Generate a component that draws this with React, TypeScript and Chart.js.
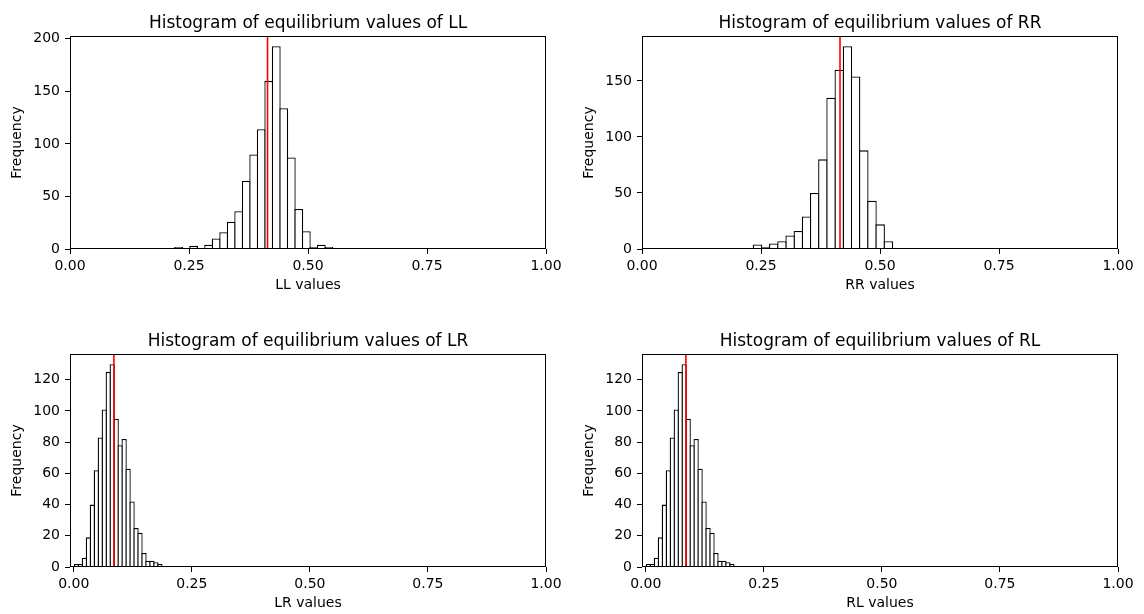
import React, { useEffect, useRef } from 'react';
import { Chart, registerables } from 'chart.js';

Chart.register(...registerables);
Chart.defaults.font.family = '"DejaVu Sans", sans-serif';
Chart.defaults.color = '#000';

const X_TICKS = [0, 0.25, 0.5, 0.75, 1];
const X_TICK_LABELS = ['0.00', '0.25', '0.50', '0.75', '1.00'];

const LL_COUNTS = [1, 2, 0, 3, 1, 4, 10, 16, 26, 36, 65, 90, 114, 160, 193, 134, 87, 38, 17, 2, 4, 2];
const LL_BIN_START = 0.2045;
const LL_BIN_WIDTH = 0.01578;
const LL_MEAN = 0.415;
const LL_Y_TICKS = [0, 50, 100, 150, 200];

const RR_COUNTS = [4, 2, 5, 7, 12, 16, 29, 50, 80, 135, 160, 181, 154, 88, 43, 22, 7, 1, 1, 0, 1, 1];
const RR_BIN_START = 0.2339;
const RR_BIN_WIDTH = 0.01719;
const RR_MEAN = 0.416;
const RR_Y_TICKS = [0, 50, 100, 150];

const LR_COUNTS = [2, 2, 6, 19, 40, 62, 83, 101, 125, 130, 95, 78, 82, 63, 42, 25, 22, 9, 4, 4, 3, 2];
const LR_BIN_START = 0.0015;
const LR_BIN_WIDTH = 0.00841;
const LR_MEAN = 0.085;
const LR_Y_TICKS = [0, 20, 40, 60, 80, 100, 120];

const RL_COUNTS = [2, 2, 6, 19, 40, 62, 83, 101, 125, 130, 95, 78, 82, 63, 42, 25, 22, 9, 4, 4, 3, 2];
const RL_BIN_START = 0.0015;
const RL_BIN_WIDTH = 0.00841;
const RL_MEAN = 0.085;
const RL_Y_TICKS = [0, 20, 40, 60, 80, 100, 120];

const TOP_X_MIN = 0;
const BOTTOM_X_MIN = -0.008;
const EDGE_WIDTH = 1.3;

const framePlugin = {
  id: 'frame',
  afterDatasetsDraw(chart: any) {
    const { ctx, chartArea: a } = chart;
    ctx.save();
    ctx.strokeStyle = '#000';
    ctx.lineWidth = 1;
    ctx.strokeRect(a.left + 0.5, a.top + 0.5, a.right - a.left - 1, a.bottom - a.top - 1);
    ctx.restore();
  },
};

const axTitlePlugin = {
  id: 'axTitle',
  afterDraw(chart: any, _args: any, opts: any) {
    const { ctx, chartArea: a } = chart;
    ctx.save();
    ctx.font = '17px "DejaVu Sans", sans-serif';
    ctx.fillStyle = '#000';
    ctx.textAlign = 'center';
    ctx.textBaseline = 'alphabetic';
    ctx.fillText(opts.text, (a.left + a.right) / 2, opts.y);
    ctx.restore();
  },
};

type Cfg = {
  title: string;
  xLabel: string;
  counts: number[];
  binStart: number;
  binWidth: number;
  mean: number;
  yTicks: number[];
  xMin: number;
  barPct: number;
  padTop: number;
  titleY: number;
  xAxisHeight: number;
  xTitleBottom: number;
  left: number;
  top: number;
};

const W = 572;
const H = 307;

function HistChart({ cfg }: { cfg: Cfg }) {
  const ref = useRef<HTMLCanvasElement | null>(null);
  useEffect(() => {
    const centers = cfg.counts.map((_, i) => cfg.binStart + (i + 0.5) * cfg.binWidth);
    const yMax = 1.05 * Math.max(...cfg.counts);
    const chart = new Chart(ref.current as HTMLCanvasElement, {
      type: 'bar',
      data: {
        datasets: [
          {
            type: 'line',
            data: [
              { x: cfg.mean, y: 0 },
              { x: cfg.mean, y: yMax },
            ],
            borderColor: '#ff0000',
            borderWidth: 1.6,
            pointRadius: 0,
            order: 0,
          } as any,
          {
            type: 'bar',
            data: centers.map((x, i) => ({ x, y: cfg.counts[i] })),
            backgroundColor: '#ffffff',
            borderColor: '#000000',
            borderWidth: EDGE_WIDTH,
            barPercentage: cfg.barPct,
            categoryPercentage: 1,
            order: 1,
          } as any,
        ],
      },
      options: {
        animation: false,
        responsive: false,
        maintainAspectRatio: false,
        layout: { padding: { left: 0, right: 26, top: cfg.padTop, bottom: 0 } },
        plugins: {
          legend: { display: false },
          tooltip: { enabled: false },
          title: { display: false },
          axTitle: { text: cfg.title, y: cfg.titleY },
        } as any,
        scales: {
          x: {
            type: 'linear',
            min: cfg.xMin,
            max: 1,
            offset: false,
            afterBuildTicks: (s: any) => {
              s.ticks = X_TICKS.map((v) => ({ value: v }));
            },
            afterFit: (s: any) => {
              s.height = cfg.xAxisHeight;
            },
            grid: {
              offset: false,
              drawOnChartArea: false,
              drawTicks: true,
              tickLength: 5,
              color: '#000',
              lineWidth: 1,
            },
            border: { display: false },
            ticks: {
              padding: 4,
              font: { size: 14 },
              color: '#000',
              maxRotation: 0,
              autoSkip: false,
              callback: (_v: any, i: number) => X_TICK_LABELS[i],
            },
            title: {
              display: true,
              text: cfg.xLabel,
              color: '#000',
              font: { size: 14 },
              padding: { top: 0, bottom: cfg.xTitleBottom },
            },
          },
          y: {
            type: 'linear',
            min: 0,
            max: yMax,
            afterBuildTicks: (s: any) => {
              s.ticks = cfg.yTicks.map((v) => ({ value: v }));
            },
            afterFit: (s: any) => {
              s.width = 70;
            },
            grid: {
              drawOnChartArea: false,
              drawTicks: true,
              tickLength: 5,
              color: '#000',
              lineWidth: 1,
            },
            border: { display: false },
            ticks: {
              padding: 5,
              font: { size: 14 },
              color: '#000',
              autoSkip: false,
              callback: (v: any) => String(v),
            },
            title: {
              display: true,
              text: 'Frequency',
              color: '#000',
              font: { size: 14 },
              padding: { top: 9, bottom: 0 },
            },
          },
        },
      },
      plugins: [framePlugin, axTitlePlugin],
    });
    return () => chart.destroy();
  }, [cfg]);
  return (
    <div style={{ position: 'absolute', left: cfg.left, top: cfg.top, width: W, height: H }}>
      <canvas ref={ref} width={W} height={H} style={{ width: W, height: H, display: 'block' }} />
    </div>
  );
}

const TOP_PX_PER_UNIT = 476;
const BOTTOM_PX_PER_UNIT = 476 / (1 - BOTTOM_X_MIN);

const CHARTS: Cfg[] = [
  {
    title: 'Histogram of equilibrium values of LL',
    xLabel: 'LL values',
    counts: LL_COUNTS,
    binStart: LL_BIN_START,
    binWidth: LL_BIN_WIDTH,
    mean: LL_MEAN,
    yTicks: LL_Y_TICKS,
    xMin: TOP_X_MIN,
    barPct: 1 + EDGE_WIDTH / (LL_BIN_WIDTH * TOP_PX_PER_UNIT),
    padTop: 36,
    titleY: 28,
    xAxisHeight: 58,
    xTitleBottom: 13,
    left: 0,
    top: 0,
  },
  {
    title: 'Histogram of equilibrium values of RR',
    xLabel: 'RR values',
    counts: RR_COUNTS,
    binStart: RR_BIN_START,
    binWidth: RR_BIN_WIDTH,
    mean: RR_MEAN,
    yTicks: RR_Y_TICKS,
    xMin: TOP_X_MIN,
    barPct: 1 + EDGE_WIDTH / (RR_BIN_WIDTH * TOP_PX_PER_UNIT),
    padTop: 36,
    titleY: 28,
    xAxisHeight: 58,
    xTitleBottom: 13,
    left: 572,
    top: 0,
  },
  {
    title: 'Histogram of equilibrium values of LR',
    xLabel: 'LR values',
    counts: LR_COUNTS,
    binStart: LR_BIN_START,
    binWidth: LR_BIN_WIDTH,
    mean: LR_MEAN,
    yTicks: LR_Y_TICKS,
    xMin: BOTTOM_X_MIN,
    barPct: 1 + EDGE_WIDTH / (LR_BIN_WIDTH * BOTTOM_PX_PER_UNIT),
    padTop: 47,
    titleY: 39,
    xAxisHeight: 47,
    xTitleBottom: 2,
    left: 0,
    top: 307,
  },
  {
    title: 'Histogram of equilibrium values of RL',
    xLabel: 'RL values',
    counts: RL_COUNTS,
    binStart: RL_BIN_START,
    binWidth: RL_BIN_WIDTH,
    mean: RL_MEAN,
    yTicks: RL_Y_TICKS,
    xMin: BOTTOM_X_MIN,
    barPct: 1 + EDGE_WIDTH / (RL_BIN_WIDTH * BOTTOM_PX_PER_UNIT),
    padTop: 47,
    titleY: 39,
    xAxisHeight: 47,
    xTitleBottom: 2,
    left: 572,
    top: 307,
  },
];

export default function App() {
  return (
    <div style={{ position: 'absolute', left: 0, top: 0, width: 1144, height: 614, background: '#fff', overflow: 'hidden' }}>
      {CHARTS.map((c) => (
        <HistChart key={c.title} cfg={c} />
      ))}
    </div>
  );
}
